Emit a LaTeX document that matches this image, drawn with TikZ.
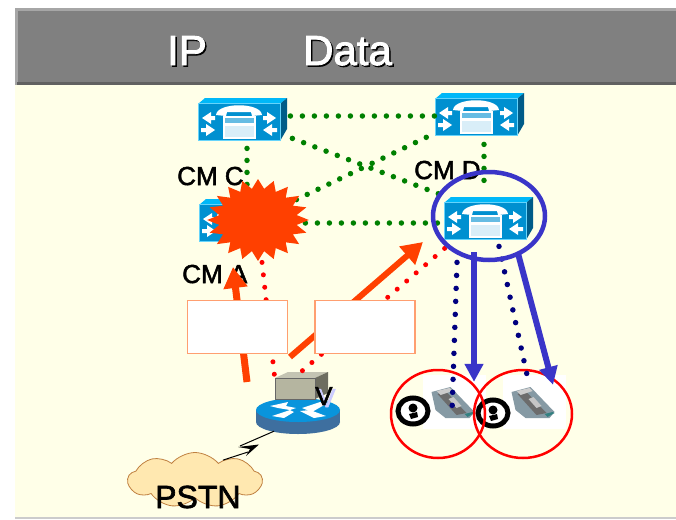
\documentclass[tikz,border=0pt]{standalone}
\usepackage{fontspec}
\setmainfont[FakeBold=2]{Liberation Sans}
\usetikzlibrary{arrows.meta,shapes.geometric,shapes.symbols}
\definecolor{cream}{HTML}{FFFFE8}
\definecolor{burst}{HTML}{FF4000}
\definecolor{ringblue}{HTML}{3A35C8}
\definecolor{swfront}{HTML}{0090D0}
\definecolor{swtop}{HTML}{00B8F8}
\definecolor{swside}{HTML}{005C88}
\definecolor{boxedge}{HTML}{FF9F70}
\definecolor{vfront}{HTML}{B5B5A0}
\definecolor{cloudfill}{HTML}{FFE8B0}
\tikzset{
  greendot/.style={draw=green!50!black,line width=5.5pt,line cap=round,dash pattern=on 0pt off 12pt},
  reddot/.style={draw=red,line width=5pt,line cap=round,dash pattern=on 0pt off 12.5pt},
  navydot/.style={draw=blue!50!black,line width=5.5pt,line cap=round,dash pattern=on 0pt off 13pt},
  swbox/.style={rectangle,fill=swfront,draw=swtop!60!white,line width=0.8pt,minimum width=82pt,minimum height=37pt,inner sep=0pt},
  labelbox/.style={rectangle,fill=white,draw=boxedge,line width=1.8pt,minimum width=100pt,minimum height=53pt,inner sep=0pt},
  cmlabel/.style={anchor=base west,inner sep=0pt,font=\fontsize{26}{26}\selectfont},
  headtext/.style={anchor=base west,inner sep=0pt,font=\fontsize{42}{42}\selectfont},
  ring/.style={draw=red,line width=2.5pt},
  ownarrow/.style={draw=burst,line width=7pt,-{Triangle[length=21pt,width=23pt,fill=burst]}},
  bluearrow/.style={draw=ringblue,line width=6pt,-{Triangle[length=18pt,width=18pt,fill=ringblue]}},
}
\newcommand{\cmswitch}[2]{%
  \fill[swtop] (#1)++(-41,-18) -- ++(7,-6) -- ++(82,0) -- ++(-7,6) -- cycle;
  \fill[swside] (#1)++(41,-18) -- ++(7,-6) -- ++(0,31) -- ++(-7,12) -- cycle;
  \node[swbox] (#2) at (#1) {};
  \begin{scope}[shift={(#1)}]
    \fill[white] (-23,-7) .. controls (-22,-20) and (22,-20) .. (23,-7) -- (13,-6) -- (12,-10) -- (-12,-10) -- (-13,-6) -- cycle;
    \fill[white] (-16,-6) rectangle (17,17);
    \fill[swfront!60!white] (-14,-4) rectangle (15,1);
    \fill[white!85!swfront] (-14,4) rectangle (15,15);
    \fill[white] (-37,-4) -- (-28,-10) -- (-28,-6) -- (-24,-6) -- (-24,-2) -- (-28,-2) -- (-28,2) -- cycle;
    \fill[white] (-24,8) -- (-33,2) -- (-33,6) -- (-38,6) -- (-38,10) -- (-33,10) -- (-33,14) -- cycle;
    \fill[white] (37,-4) -- (28,-10) -- (28,-6) -- (24,-6) -- (24,-2) -- (28,-2) -- (28,2) -- cycle;
    \fill[white] (24,8) -- (33,2) -- (33,6) -- (38,6) -- (38,10) -- (33,10) -- (33,14) -- cycle;
  \end{scope}
}
\newcommand{\deskphone}[2]{%
  \node[rectangle,fill=white,minimum width=63pt,minimum height=54pt,inner sep=0pt] (#2) at (#1) {};
  \begin{scope}[shift={(#1)}]
    \fill[gray!80!cyan] (-23,-10) -- (-4,-15) -- (20,10) -- (15,16) -- (-9,16) -- (-19,8) -- cycle;
    \fill[gray!85!black] (-17,-8) -- (-9,-11) -- (12,11) -- (2,13) -- cycle;
    \fill[gray!40] (-18,-11) -- (-5,-14) -- (-2,-11) -- (-14,-7) -- cycle;
    \fill[gray!45] (-6,-3) -- (-1,-5) -- (7,4) -- (2,6) -- cycle;
    \fill[teal!60!gray] (10,12) -- (18,10) -- (20,11) -- (13,15) -- cycle;
  \end{scope}
}
\newcommand{\headset}[2]{%
  \node[ellipse,draw=black,fill=white,line width=5pt,minimum width=30pt,minimum height=26pt,inner sep=0pt] (#2) at (#1) {};
  \fill[black] (#1)++(0,-3) circle [radius=4.5];
  \fill[black] (#1)++(-4,3) -- ++(8,-2) -- ++(1,5) -- ++(-7,2) -- cycle;
}
\begin{document}
\begin{tikzpicture}[x=1pt,y=-1pt]
  \useasboundingbox (0,0) rectangle (676,519);
  \fill[white] (0,0) rectangle (676,519);
  \fill[cream] (15,85) rectangle (676,517);
  \fill[gray!40] (15,517) rectangle (676,519);
  % title bar
  \fill[gray!70] (15,8) rectangle (676,85);
  \fill[black!62] (17,82) rectangle (676,85);
  \fill[black!50] (18,11) rectangle (676,82);
  \node[headtext,black] (ipshade) at (168.5,66.5) {IP};
  \node[headtext,white] (ip) at (167,65) {IP};
  \node[headtext,black] (datashade) at (304.5,66.5) {Data};
  \node[headtext,white] (data) at (303,65) {Data};
  % gateway
  \fill[cyan!60!blue!70!black] (256,410) rectangle (340,422);
  \fill[cyan!60!blue!70!black] (298,422) ellipse [x radius=42, y radius=12];
  \node[ellipse,fill=cyan!80!blue,minimum width=84pt,minimum height=24pt,inner sep=0pt] (router) at (298,410) {};
  \fill[white] (270,406) -- (288,402) -- (286,406) -- (296,408) -- (290,410) -- (278,408) -- cycle;
  \fill[white] (302,408) -- (320,402) -- (326,404) -- (312,412) -- cycle;
  \fill[white] (272,416) -- (290,410) -- (294,412) -- (284,418) -- cycle;
  \fill[white] (300,411) -- (310,410) -- (326,416) -- (314,418) -- cycle;
  \fill[vfront!80!white] (275,378) -- (288,372) -- (328,372) -- (315,378) -- cycle;
  \fill[vfront!60!black] (315,378) -- (328,372) -- (328,393) -- (315,399) -- cycle;
  \node[rectangle,fill=vfront,draw=black!60,line width=0.8pt,minimum width=40pt,minimum height=21pt,inner sep=0pt] (vbox) at (295,388.5) {};
  \node[cmlabel,blue!20!white] (vshade) at (318,407) {V};
  \node[cmlabel,black] (vlabel) at (315,405) {V};
  % call managers
  \cmswitch{239,122}{cmc}
  \cmswitch{476,117}{cmd}
  \cmswitch{240,223}{cma}
  \cmswitch{485,221}{cmb}
  % signalling
  \draw[greendot] ([xshift=10pt,yshift=6pt]cmc.east) -- ([yshift=1pt]cmd.west);
  \draw[greendot] ([xshift=12pt,yshift=2.5pt]cmc.south east) -- ([xshift=5pt,yshift=4.5pt]cmb.north west);
  \draw[greendot] ([xshift=15pt,yshift=4.5pt]cma.north east) -- ([xshift=2pt,yshift=3.5pt]cmd.south west);
  \draw[greendot] (cma.east) -- ([yshift=-2pt]cmb.west);
  \draw[greendot] ([xshift=8pt,yshift=-7.5pt]cmc.south) -- ([xshift=7pt,yshift=10pt]cma.north);
  \draw[greendot] ([xshift=8pt,yshift=-8.5pt]cmd.south) -- ([xshift=-1pt,yshift=10.5pt]cmb.north);
  \node[cmlabel] (cmclabel) at (177,185) {CM C};
  \node[cmlabel] (cmdlabel) at (414,179) {CM D};
  \node[cmlabel] (cmalabel) at (182,283) {CM A};
  \draw[reddot] ([xshift=22pt,yshift=-20.5pt]cma.south) -- ([xshift=-20pt,yshift=-3pt]vbox.north);
  \draw[reddot] ([xshift=1pt,yshift=-8.5pt]cmb.south west) -- ([xshift=4pt,yshift=4pt]vbox.north);
  \node[star,star points=20,star point ratio=1.3,fill=burst,minimum size=82pt,inner sep=0pt,transform shape,xscale=1.24] (fault) at (258,220) {};
  % phones
  \deskphone{454.5,402}{phonea}
  \deskphone{534.5,402}{phoneb}
  \headset{413,411}{seata}
  \headset{493,413}{seatb}
  \draw[ring] (438,414) ellipse [x radius=47, y radius=44];
  \draw[ring] (523,414) ellipse [x radius=49, y radius=44];
  \draw[navydot] ([xshift=-28pt,yshift=-22.5pt]cmb.south) -- ([xshift=-2.5pt,yshift=-9pt]phonea.center);
  \draw[navydot] ([xshift=14pt,yshift=-6.5pt]cmb.south) -- ([xshift=-7.5pt]phoneb.north);
  % media
  \coordinate (ownstart) at (247,382);
  \coordinate (ownend) at (233,267);
  \draw[ownarrow] (ownstart) -- (ownend);
  \coordinate (otherstart) at (290,357);
  \coordinate (otherend) at (423,242);
  \draw[ownarrow,line width=6pt] (otherstart) -- (otherend);
  \node[labelbox] (boxa) at (237.5,327) {};
  \node[labelbox] (boxb) at (365,327) {};
  \draw[ringblue,line width=4.5pt] (489,216) ellipse [x radius=56, y radius=44];
  \draw[bluearrow] ([xshift=-11pt,yshift=-12.5pt]cmb.south) -- ([xshift=19.5pt,yshift=-7pt]phonea.north);
  \draw[bluearrow] ([xshift=33pt,yshift=-13.5pt]cmb.south) -- ([xshift=18.5pt,yshift=-10pt]phoneb.north);
  % exchange
  \node[cloud,cloud puffs=9,cloud puff arc=100,aspect=2.4,draw=brown,fill=cloudfill,line width=0.8pt,minimum width=134pt,minimum height=55pt,inner sep=0pt] (pstn) at (195,480) {};
  \coordinate (boltstart) at ([xshift=-24pt,yshift=-9pt]router.south);
  \coordinate (boltend) at ([xshift=28pt,yshift=-8pt]pstn.north);
  \draw[black,line width=1pt] (boltstart) -- (240,446) (248,452) -- (boltend);
  \fill[black] (238,447) -- (259,444.5) -- (246,456) -- (250,449) -- cycle;
  \node[anchor=base west,inner sep=0pt,font=\fontsize{32}{32}\selectfont] (pstnlabel) at (155,508) {PSTN};
\end{tikzpicture}
\end{document}
